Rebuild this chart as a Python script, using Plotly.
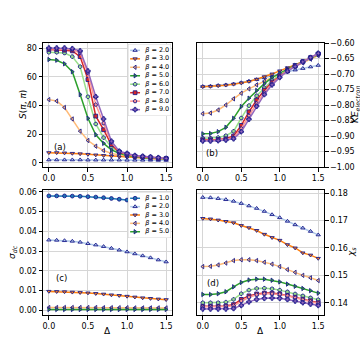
import plotly.graph_objects as go

DELTA = [0.0, 0.1, 0.2, 0.3, 0.4, 0.5, 0.6, 0.7, 0.8, 0.9, 1.0, 1.1, 1.2, 1.3, 1.4, 1.5]

BETAS_TOP = ["2.0", "3.0", "4.0", "5.0", "6.0", "7.0", "8.0", "9.0"]
BETAS_C = ["1.0", "2.0", "3.0", "4.0", "5.0"]

S_PIPI = {
    "2.0": [2.0, 2.0, 2.0, 2.0, 2.0, 1.9, 1.9, 1.9, 1.9, 1.9, 1.8, 1.8, 1.8, 1.8, 1.7, 1.7],
    "3.0": [7.0, 7.0, 6.8, 6.5, 6.2, 5.8, 5.4, 5.0, 4.6, 4.2, 3.8, 3.5, 3.2, 3.0, 2.8, 2.6],
    "4.0": [44.0, 43.0, 38.5, 30.5, 22.0, 15.5, 11.5, 8.5, 6.5, 5.3, 4.5, 3.8, 3.4, 3.1, 2.9, 2.7],
    "5.0": [72.0, 71.5, 69.0, 63.5, 47.5, 31.0, 19.5, 13.5, 9.0, 6.5, 5.0, 4.0, 3.5, 3.2, 3.0, 2.8],
    "6.0": [77.0, 77.0, 76.5, 74.0, 67.0, 46.0, 27.0, 17.5, 11.0, 7.0, 5.5, 4.5, 4.0, 3.5, 3.0, 3.0],
    "7.0": [79.0, 79.0, 78.5, 78.0, 74.0, 58.0, 32.5, 23.0, 12.5, 7.5, 6.0, 4.5, 4.0, 3.5, 3.0, 3.0],
    "8.0": [79.5, 79.5, 79.0, 79.0, 76.5, 62.5, 40.5, 27.5, 14.0, 8.0, 6.0, 5.0, 4.5, 4.0, 3.5, 3.0],
    "9.0": [80.0, 80.0, 80.0, 79.5, 78.0, 64.0, 46.0, 30.5, 15.0, 8.0, 6.5, 5.0, 4.5, 4.0, 3.5, 3.0],
}

KE = {
    "2.0": [-0.740, -0.739, -0.737, -0.735, -0.732, -0.728, -0.723, -0.718, -0.712, -0.705, -0.699, -0.693, -0.687, -0.682, -0.677, -0.672],
    "3.0": [-0.741, -0.740, -0.738, -0.736, -0.733, -0.729, -0.724, -0.717, -0.709, -0.700, -0.690, -0.680, -0.670, -0.660, -0.650, -0.640],
    "4.0": [-0.828, -0.826, -0.816, -0.800, -0.780, -0.762, -0.748, -0.735, -0.723, -0.711, -0.699, -0.688, -0.676, -0.664, -0.652, -0.640],
    "5.0": [-0.893, -0.892, -0.886, -0.872, -0.843, -0.805, -0.778, -0.753, -0.731, -0.712, -0.697, -0.684, -0.672, -0.660, -0.648, -0.637],
    "6.0": [-0.907, -0.907, -0.905, -0.899, -0.885, -0.842, -0.802, -0.770, -0.744, -0.721, -0.703, -0.687, -0.673, -0.660, -0.648, -0.636],
    "7.0": [-0.912, -0.912, -0.911, -0.909, -0.900, -0.866, -0.822, -0.784, -0.752, -0.726, -0.706, -0.689, -0.674, -0.660, -0.647, -0.635],
    "8.0": [-0.914, -0.914, -0.913, -0.911, -0.905, -0.876, -0.835, -0.795, -0.760, -0.731, -0.709, -0.690, -0.675, -0.660, -0.647, -0.634],
    "9.0": [-0.916, -0.916, -0.915, -0.913, -0.909, -0.886, -0.846, -0.804, -0.766, -0.735, -0.711, -0.691, -0.676, -0.661, -0.647, -0.633],
}

SIGMA = {
    "1.0": [0.0580, 0.0580, 0.0580, 0.0579, 0.0578, 0.0576, 0.0574, 0.0571, 0.0567, 0.0563, 0.0559, 0.0555, 0.0551, 0.0547, 0.0543, 0.0539],
    "2.0": [0.0356, 0.0355, 0.0353, 0.0350, 0.0345, 0.0338, 0.0331, 0.0323, 0.0314, 0.0305, 0.0296, 0.0286, 0.0276, 0.0266, 0.0255, 0.0245],
    "3.0": [0.0095, 0.0094, 0.0093, 0.0091, 0.0089, 0.0087, 0.0084, 0.0081, 0.0077, 0.0074, 0.0070, 0.0066, 0.0062, 0.0059, 0.0056, 0.0053],
    "4.0": [0.0013, 0.0013, 0.0013, 0.0013, 0.0013, 0.0013, 0.0013, 0.0012, 0.0012, 0.0012, 0.0012, 0.0011, 0.0011, 0.0011, 0.0011, 0.0011],
    "5.0": [0.0003, 0.0003, 0.0003, 0.0003, 0.0003, 0.0003, 0.0003, 0.0003, 0.0003, 0.0003, 0.0003, 0.0003, 0.0003, 0.0003, 0.0003, 0.0003],
}

CHI = {
    "2.0": [0.1785, 0.1784, 0.1781, 0.1777, 0.1771, 0.1763, 0.1754, 0.1745, 0.1734, 0.1722, 0.1711, 0.1698, 0.1685, 0.1673, 0.1661, 0.1648],
    "3.0": [0.1708, 0.1706, 0.1702, 0.1697, 0.1692, 0.1682, 0.1674, 0.1664, 0.1650, 0.1638, 0.1628, 0.1612, 0.1600, 0.1582, 0.1574, 0.1562],
    "4.0": [0.1532, 0.1533, 0.1538, 0.1545, 0.1554, 0.1557, 0.1557, 0.1554, 0.1548, 0.1541, 0.1532, 0.1521, 0.1511, 0.1500, 0.1491, 0.1481],
    "5.0": [0.1430, 0.1430, 0.1433, 0.1440, 0.1458, 0.1474, 0.1483, 0.1486, 0.1486, 0.1482, 0.1476, 0.1468, 0.1460, 0.1452, 0.1444, 0.1435],
    "6.0": [0.1400, 0.1400, 0.1400, 0.1402, 0.1412, 0.1433, 0.1446, 0.1452, 0.1453, 0.1451, 0.1446, 0.1440, 0.1432, 0.1425, 0.1418, 0.1411],
    "7.0": [0.1387, 0.1387, 0.1387, 0.1388, 0.1393, 0.1412, 0.1425, 0.1432, 0.1435, 0.1435, 0.1432, 0.1427, 0.1420, 0.1413, 0.1407, 0.1400],
    "8.0": [0.1385, 0.1385, 0.1385, 0.1386, 0.1389, 0.1406, 0.1420, 0.1429, 0.1433, 0.1433, 0.1430, 0.1425, 0.1418, 0.1411, 0.1404, 0.1397],
    "9.0": [0.1377, 0.1377, 0.1377, 0.1377, 0.1379, 0.1390, 0.1403, 0.1412, 0.1416, 0.1417, 0.1416, 0.1412, 0.1406, 0.1400, 0.1395, 0.1390],
}

COLORS = {
    "1.0": "#1f77b4", "2.0": "#aec7e8", "3.0": "#ff7f0e", "4.0": "#ffbb78", "5.0": "#2ca02c",
    "6.0": "#98df8a", "7.0": "#d62728", "8.0": "#ff9896", "9.0": "#9467bd",
}
SYMBOLS = {
    "1.0": "circle", "2.0": "triangle-up", "3.0": "triangle-down", "4.0": "triangle-left",
    "5.0": "triangle-right", "6.0": "octagon", "7.0": "square", "8.0": "pentagon", "9.0": "cross",
}
EDGE = "#1c1c8c"
FONT = "DejaVu Sans"
MSIZE = 3.8

fig = go.Figure()


def add_series(data, keys, xa, ya):
    for k in keys:
        fig.add_trace(go.Scatter(
            x=DELTA, y=data[k], mode="lines+markers", xaxis=xa, yaxis=ya,
            line=dict(color=COLORS[k], width=1.5),
            marker=dict(symbol=SYMBOLS[k], size=MSIZE, color=COLORS[k], line=dict(color=EDGE, width=0.9)),
            showlegend=False, hoverinfo="skip"))


add_series(S_PIPI, BETAS_TOP, "x", "y")
add_series(KE, BETAS_TOP, "x2", "y2")
add_series(SIGMA, BETAS_C, "x3", "y3")
add_series(CHI, BETAS_TOP, "x4", "y4")


def add_legend(keys, xa, ya):
    n = len(keys)
    fig.add_trace(go.Scatter(
        x=[0, 1, 1, 0, 0], y=[-0.75, -0.75, n - 0.25, n - 0.25, -0.75], mode="lines",
        fill="toself", fillcolor="rgba(255,255,255,0.85)", line=dict(color="#cccccc", width=0.8),
        xaxis=xa, yaxis=ya, showlegend=False, hoverinfo="skip"))
    for i, k in enumerate(keys):
        fig.add_trace(go.Scatter(
            x=[0.05, 0.165, 0.28], y=[i, i, i], mode="lines", xaxis=xa, yaxis=ya,
            line=dict(color=COLORS[k], width=1.5), showlegend=False, hoverinfo="skip"))
        fig.add_trace(go.Scatter(
            x=[0.165], y=[i], mode="markers", xaxis=xa, yaxis=ya,
            marker=dict(symbol=SYMBOLS[k], size=MSIZE, color=COLORS[k], line=dict(color=EDGE, width=0.9)),
            showlegend=False, hoverinfo="skip"))
    fig.add_trace(go.Scatter(
        x=[0.4] * n, y=list(range(n)), mode="text", xaxis=xa, yaxis=ya,
        text=["<i>β</i> = " + k for k in keys], textposition="middle right",
        textfont=dict(family=FONT, size=6.5, color="black"), showlegend=False, hoverinfo="skip"))
    return n


nA = add_legend(BETAS_TOP, "x5", "y5")
nC = add_legend(BETAS_C, "x6", "y6")

XA = [43 / 360, 172 / 360]
XB = [197 / 360, 324 / 360]
YTOP = [1 - 167 / 360, 1 - 43 / 360]
YBOT = [1 - 315 / 360, 1 - 190 / 360]

tickfont = dict(family=FONT, size=8, color="black")
common = dict(showline=True, linecolor="black", linewidth=1, mirror=True, ticks="outside",
              ticklen=3.5, tickcolor="black", tickwidth=1, showgrid=True, gridcolor="#d6d6d6",
              gridwidth=1, zeroline=False, tickfont=tickfont, fixedrange=True, automargin=False)

xcommon = dict(common, range=[-0.075, 1.575], tickvals=[0.0, 0.5, 1.0, 1.5], tickformat=".1f")

hidden = dict(visible=False, showgrid=False, zeroline=False, fixedrange=True, automargin=False)

fig.update_layout(
    template="none",
    width=360, height=360, margin=dict(l=0, r=0, t=0, b=0, autoexpand=False),
    paper_bgcolor="white", plot_bgcolor="white", showlegend=False,
    xaxis=dict(xcommon, domain=XA, anchor="y"),
    yaxis=dict(common, domain=YTOP, anchor="x", range=[-3.0, 83.5], tickvals=[0, 20, 40, 60, 80]),
    xaxis2=dict(xcommon, domain=XB, anchor="y2"),
    yaxis2=dict(common, domain=YTOP, anchor="x2", side="right", range=[-1.0, -0.6], dtick=0.05,
                tick0=-1.0, tickformat=".2f"),
    xaxis3=dict(xcommon, domain=XA, anchor="y3"),
    yaxis3=dict(common, domain=YBOT, anchor="x3", range=[-0.0025, 0.061], dtick=0.01, tick0=0,
                tickformat=".2f"),
    xaxis4=dict(xcommon, domain=XB, anchor="y4"),
    yaxis4=dict(common, domain=YBOT, anchor="x4", side="right", range=[0.1355, 0.1812], dtick=0.01,
                tick0=0.14, tickformat=".2f"),
    xaxis5=dict(hidden, domain=[128 / 360, 171 / 360], anchor="y5", range=[0, 1]),
    yaxis5=dict(hidden, domain=[1 - 116 / 360, 1 - 44 / 360], anchor="x5", range=[nA - 0.25, -0.75]),
    xaxis6=dict(hidden, domain=[128 / 360, 171 / 360], anchor="y6", range=[0, 1]),
    yaxis6=dict(hidden, domain=[1 - 238 / 360, 1 - 192 / 360], anchor="x6", range=[nC - 0.25, -0.75]),
)

lab = dict(family=FONT, size=9, color="black")
ann = [
    dict(text="<i>S</i>(<i>π</i>, <i>π</i>)", x=23 / 360, y=1 - 105 / 360, textangle=-90),
    dict(text="<i>KE</i><sub><i>electron</i></sub>", x=355 / 360, y=1 - 105 / 360, textangle=-90),
    dict(text="<i>σ</i><sub><i>dc</i></sub>", x=13 / 360, y=1 - 252 / 360, textangle=-90),
    dict(text="<i>χ</i><sub><i>s</i></sub>", x=352 / 360, y=1 - 252 / 360, textangle=-90),
    dict(text="Δ", x=107.5 / 360, y=1 - 331 / 360, textangle=0),
    dict(text="Δ", x=260.5 / 360, y=1 - 331 / 360, textangle=0),
]
for a in ann:
    fig.add_annotation(xref="paper", yref="paper", showarrow=False, font=lab,
                       xanchor="center", yanchor="middle", **a)

panel = dict(family=FONT, size=8.5, color="black")
for txt, xr, yr, xx, yy in [("(a)", "x domain", "y domain", 0.13, 0.16),
                             ("(b)", "x2 domain", "y2 domain", 0.12, 0.11),
                             ("(c)", "x3 domain", "y3 domain", 0.14, 0.30),
                             ("(d)", "x4 domain", "y4 domain", 0.126, 0.256)]:
    fig.add_annotation(text=txt, xref=xr, yref=yr, x=xx, y=yy, showarrow=False, font=panel,
                       xanchor="center", yanchor="middle")

fig.write_html(
    "out.html",
    config={"displayModeBar": False, "staticPlot": True},
    post_script="document.body.style.margin='0';document.body.style.padding='0';"
                "document.documentElement.style.overflow='hidden';",
)
